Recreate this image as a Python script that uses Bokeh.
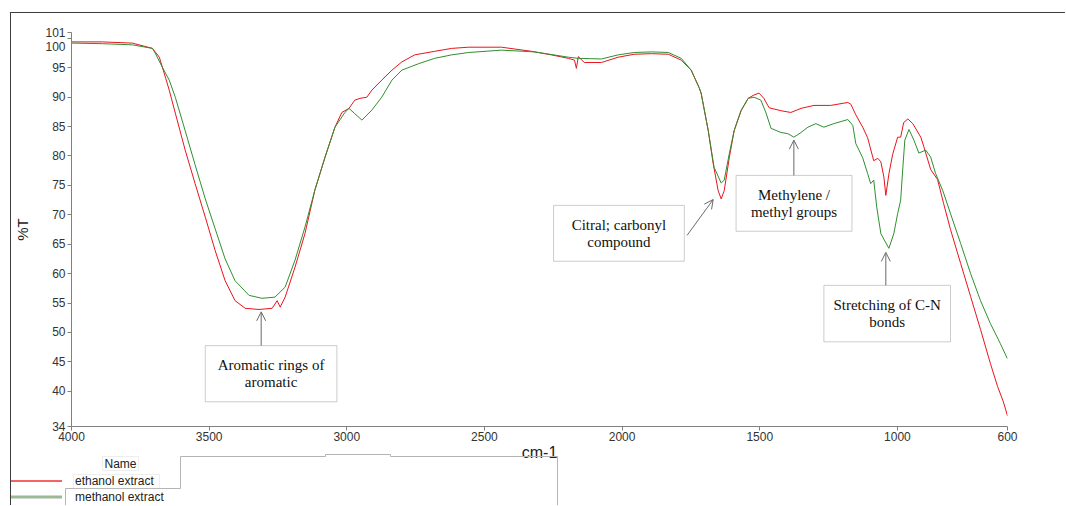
from bokeh.plotting import figure
from bokeh.models import (Range1d, FixedTicker, Legend, LegendItem, Label, BoxAnnotation,
                          Arrow, OpenHead)
from bokeh.embed import file_html
from bokeh.resources import INLINE

# ---------------- data ----------------
wn_ethanol = [4000, 3888, 3779, 3706, 3681, 3659, 3645, 3623, 3587, 3551, 3514, 3478, 3442, 3406,
              3369, 3319, 3271, 3253, 3242, 3224, 3188, 3152, 3116, 3079, 3043, 3018, 2992, 2971,
              2952, 2927, 2909, 2873, 2836, 2800, 2753, 2681, 2619, 2557, 2438, 2329, 2257, 2195,
              2173, 2166, 2159, 2137, 2075, 2014, 1956, 1894, 1832, 1785, 1749, 1720, 1713, 1687,
              1669, 1651, 1640, 1629, 1611, 1593, 1568, 1542, 1524, 1503, 1485, 1466, 1423, 1387,
              1350, 1303, 1242, 1180, 1169, 1151, 1126, 1108, 1086, 1071, 1060, 1049, 1042, 1031,
              1017, 999, 988, 977, 962, 944, 915, 904, 879, 854, 832, 807, 770, 734, 698, 662,
              636, 615, 600]
t_ethanol = [99.4, 99.4, 99.2, 98.3, 96.8, 93.4, 91.2, 87.3, 81.0, 75.3, 69.6, 63.9, 58.8, 55.4,
             54.1, 53.9, 54.1, 55.4, 54.3, 56.0, 61.1, 66.8, 74.2, 79.8, 84.9, 87.4, 88.1, 89.5,
             89.8, 90.0, 91.2, 92.9, 94.6, 96.0, 97.2, 97.8, 98.3, 98.5, 98.5, 97.8, 97.2, 96.6,
             96.3, 94.9, 96.9, 95.9, 95.9, 96.8, 97.3, 97.4, 97.3, 96.3, 94.6, 91.6, 90.7, 84.3,
             78.7, 74.1, 72.7, 74.1, 79.6, 84.3, 87.7, 89.8, 90.3, 90.7, 89.8, 88.2, 87.7, 87.4,
             88.1, 88.6, 88.6, 89.1, 88.8, 87.0, 84.9, 83.1, 79.2, 79.6, 79.0, 76.4, 73.3, 76.9,
             80.3, 83.2, 83.2, 85.7, 86.3, 85.5, 83.2, 81.6, 77.7, 76.0, 71.9, 67.5, 61.7, 56.1,
             50.5, 44.7, 40.8, 38.2, 35.8]

wn_methanol = [4000, 3888, 3779, 3706, 3696, 3670, 3645, 3623, 3587, 3551, 3514, 3478, 3442, 3406,
               3355, 3308, 3261, 3224, 3188, 3152, 3116, 3079, 3043, 3007, 2992, 2971, 2945, 2909,
               2873, 2836, 2800, 2739, 2681, 2619, 2557, 2438, 2318, 2195, 2159, 2075, 2014, 1956,
               1894, 1832, 1785, 1749, 1720, 1713, 1687, 1666, 1640, 1629, 1611, 1593, 1568, 1542,
               1521, 1496, 1477, 1459, 1423, 1398, 1376, 1350, 1325, 1296, 1267, 1231, 1180, 1162,
               1151, 1126, 1108, 1097, 1086, 1075, 1060, 1031, 1013, 999, 988, 980, 973, 958, 940,
               922, 897, 879, 861, 835, 807, 770, 734, 698, 662, 626, 600]
t_methanol = [99.2, 99.1, 98.9, 98.3, 97.5, 95.1, 92.9, 90.0, 84.3, 78.5, 72.7, 67.6, 62.5, 58.8,
              56.3, 55.8, 56.0, 57.7, 62.3, 67.9, 74.2, 79.8, 84.9, 87.4, 88.1, 87.2, 86.1, 87.8,
              90.0, 92.9, 94.6, 95.7, 96.6, 97.2, 97.6, 98.0, 97.7, 96.8, 96.6, 96.5, 97.2, 97.6,
              97.7, 97.6, 96.6, 94.6, 91.6, 90.7, 84.3, 78.1, 75.4, 75.9, 80.3, 84.3, 87.7, 89.8,
              90.0, 89.5, 87.3, 84.7, 84.0, 83.8, 83.2, 84.0, 84.9, 85.5, 84.9, 85.5, 86.2, 85.2,
              82.1, 79.7, 77.0, 75.3, 75.9, 71.3, 66.8, 64.3, 66.8, 70.2, 72.5, 78.1, 82.7, 84.5,
              82.7, 80.5, 81.0, 79.8, 77.0, 74.1, 70.2, 65.1, 60.0, 55.4, 51.5, 48.1, 45.5]

series_names = ["ethanol extract", "methanol extract"]
x_ticks = [4000, 3500, 3000, 2500, 2000, 1500, 1000, 600]
y_ticks = [34, 40, 45, 50, 55, 60, 65, 70, 75, 80, 85, 90, 95, 100, 101]

# annotation boxes: text lines, box (left, right, top, bottom), arrow (x0, y0, x1, y1)
notes_text = [["Aromatic rings of", "aromatic"],
              ["Citral; carbonyl", "compound"],
              ["Methylene /", "methyl groups"],
              ["Stretching of C-N", "bonds"]]
notes_box = [(3514, 3036, 47.75, 38.2),
             (2249, 1774, 71.6, 62.1),
             (1586, 1165, 76.7, 67.2),
             (1267, 807, 58.0, 48.4)]
notes_arrow = [(3311, 47.75, 3311, 53.5),
               (1764, 66.5, 1669, 72.6),
               (1376, 76.7, 1376, 82.7),
               (1042, 58.0, 1042, 63.6)]

# legend-area decoration (pixel units of the strip below the plot)
frame_xs = [54, 54, 169, 169, 314, 314, 379, 379, 546, 546]
frame_ys = [-77, -36, -36, -4, -4, -2, -2, -4, -4, -77]

# ---------------- styles ----------------
RED = "#e8141c"
GREEN = "#2f8f2f"
FONT = "Liberation Sans"
SERIF = "Liberation Serif"
W = 1055

# ---------------- main plot ----------------
p = figure(width=W, height=455, x_range=Range1d(4000, 600), y_range=Range1d(34, 101),
           output_backend="svg", toolbar_location=None,
           min_border_left=58, min_border_right=W - 996, min_border_top=19, min_border_bottom=42,
           x_axis_label="cm-1", y_axis_label="%T")
p.grid.visible = False
p.outline_line_color = None
p.background_fill_color = "white"
p.border_fill_color = "white"
p.styles = {"margin-left": "10px", "margin-top": "12px",
            "border-top": "1px solid #3c3c3c", "border-left": "1px solid #3c3c3c"}

for ax in (p.xaxis[0], p.yaxis[0]):
    ax.axis_line_color = "#808080"
    ax.major_tick_line_color = "#808080"
    ax.minor_tick_line_color = None
    ax.major_tick_out = 4
    ax.major_tick_in = 0
    ax.major_label_text_font = FONT
    ax.major_label_text_font_size = "12px"
    ax.major_label_text_color = "#333333"
    ax.axis_label_text_font = FONT
    ax.axis_label_text_font_style = "normal"
    ax.axis_label_text_color = "#222222"

p.xaxis[0].ticker = FixedTicker(ticks=x_ticks)
p.xaxis[0].major_label_standoff = 1
p.xaxis[0].axis_label_standoff = 0
p.xaxis[0].axis_label_text_font_size = "16px"
p.yaxis[0].ticker = FixedTicker(ticks=y_ticks)
p.yaxis[0].major_label_overrides = {100: "\n100"}
p.yaxis[0].major_label_standoff = 2
p.yaxis[0].axis_label_standoff = 11
p.yaxis[0].axis_label_text_font_size = "15px"

p.line(wn_ethanol, t_ethanol, line_color=RED, line_width=1)
p.line(wn_methanol, t_methanol, line_color=GREEN, line_width=1)

for lines, box, arr in zip(notes_text, notes_box, notes_arrow):
    left, right, top, bottom = box
    p.add_layout(BoxAnnotation(left=left, right=right, top=top, bottom=bottom,
                               fill_color="white", fill_alpha=1.0,
                               line_color="#5a5a5a", line_width=1))
    cx = (left + right) / 2
    n = len(lines)
    step = (top - bottom) / (n + 1.2)
    for i, t in enumerate(lines):
        yy = (top + bottom) / 2 + step * ((n - 1) / 2 - i)
        p.add_layout(Label(x=cx, y=yy, text=t, text_align="center", text_baseline="middle",
                           text_font=SERIF, text_font_size="15px", text_color="#111111"))
    x0, y0, x1, y1 = arr
    p.add_layout(Arrow(x_start=x0, y_start=y0, x_end=x1, y_end=y1,
                       line_color="#6a6a6a", line_width=1,
                       end=OpenHead(size=9, line_color="#6a6a6a", line_width=1)))

# ---------------- legend strip below ----------------
p2 = figure(width=W, height=53, x_range=Range1d(0, W), y_range=Range1d(-53, 0),
            output_backend="svg", toolbar_location=None,
            x_axis_location=None, y_axis_location=None,
            min_border_left=0, min_border_right=0, min_border_top=0, min_border_bottom=0)
p2.grid.visible = False
p2.outline_line_color = None
p2.background_fill_alpha = 0
p2.border_fill_alpha = 0
p2.styles = {"margin-left": "10px", "margin-top": "-15px",
             "border-left": "1px solid #3c3c3c"}

# the same series (they lie outside this strip's ranges; used for the legend glyphs)
l1 = p2.line(wn_ethanol, t_ethanol, line_color="#f03030", line_width=1.3)
l2 = p2.line(wn_methanol, t_methanol, line_color="#9cb896", line_width=3)

p2.line(frame_xs, frame_ys, line_color="#b4b4b4", line_width=1)
p2.add_layout(BoxAnnotation(left=91, right=127, top=-4, bottom=-18,
                            fill_alpha=0, line_color="#c8c8c8", line_width=1))
p2.add_layout(Label(x=109, y=-11, text="Name", text_align="center", text_baseline="middle",
                    text_font=FONT, text_font_size="12px", text_color="#222222"))
p2.add_layout(BoxAnnotation(left=62, right=148, top=-22, bottom=-36,
                            fill_alpha=0, line_color="#c8c8c8", line_width=1))

legend = Legend(items=[LegendItem(label=series_names[0], renderers=[l1]),
                       LegendItem(label=series_names[1], renderers=[l2])],
                location=(-1, 1.5), orientation="vertical",
                glyph_width=52, glyph_height=13, label_height=13, label_standoff=13,
                spacing=2, padding=0, margin=0, border_line_color=None,
                background_fill_alpha=0, label_text_font=FONT,
                label_text_font_size="12px", label_text_color="#222222")
p2.add_layout(legend)

open("out.html", "w").write(file_html([p, p2], INLINE))
